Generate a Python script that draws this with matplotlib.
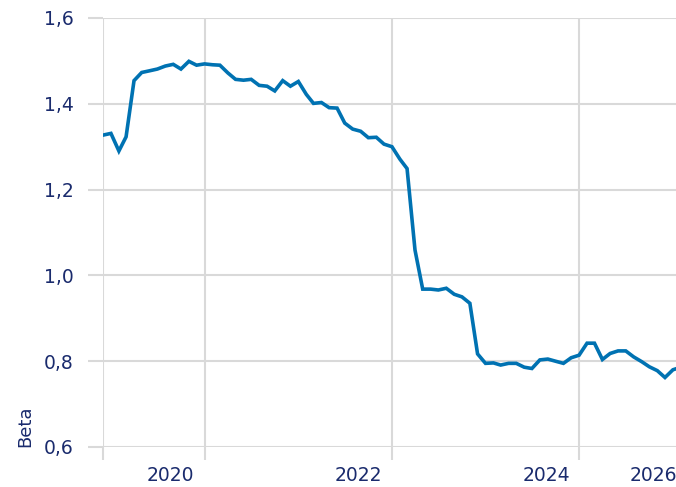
import matplotlib
matplotlib.use("Agg")
import matplotlib.pyplot as plt
import pandas as pd

# monthly beta estimates, starting Dec 2018
start = "2018-12-01"
beta = [1.327, 1.331, 1.290, 1.323, 1.454, 1.473, 1.477, 1.481, 1.488, 1.492,
        1.481, 1.499, 1.490, 1.493, 1.491, 1.490, 1.472, 1.457, 1.455, 1.457,
        1.443, 1.441, 1.430, 1.454, 1.441, 1.452, 1.422, 1.401, 1.403, 1.391,
        1.390, 1.355, 1.341, 1.336, 1.321, 1.322, 1.306, 1.300, 1.271, 1.249,
        1.059, 0.968, 0.968, 0.966, 0.970, 0.956, 0.950, 0.935, 0.817, 0.795,
        0.796, 0.791, 0.795, 0.795, 0.786, 0.783, 0.803, 0.805, 0.800, 0.795,
        0.808, 0.814, 0.842, 0.842, 0.804, 0.818, 0.824, 0.824, 0.810, 0.799,
        0.787, 0.778, 0.762, 0.780, 0.786]
dates = pd.date_range(start, periods=len(beta), freq="MS")

grid_dates = pd.to_datetime(["2018-12-01", "2020-01-01", "2022-01-01", "2024-01-01"])
label_dates = pd.to_datetime(["2019-08-22", "2021-08-25", "2023-08-25", "2024-10-18"])
year_labels = ["2020", "2022", "2024", "2026"]
y_ticks = [0.6, 0.8, 1.0, 1.2, 1.4, 1.6]

txt = "#1a2b6d"
gridc = "#d9d9d9"

fig = plt.figure(figsize=(6.76, 4.87), dpi=100)
ax = fig.add_axes([103 / 676, 40 / 487, 573 / 676, 429 / 487])

ax.plot(dates, beta, color="#0072b2", lw=2.6, zorder=3, solid_joinstyle="miter")

ax.set_xlim(pd.Timestamp("2018-12-01"), pd.Timestamp("2025-01-13"))
ax.set_ylim(0.6, 1.6)

ax.set_yticks(y_ticks)
ax.set_yticklabels([f"{v:.1f}".replace(".", ",") for v in y_ticks])
ax.set_xticks(grid_dates)
ax.set_xticklabels([""] * len(grid_dates))
ax.set_xticks(label_dates, minor=True)
ax.set_xticklabels(year_labels, minor=True)

ax.grid(True, which="major", color=gridc, lw=1.5, zorder=0)
ax.tick_params(axis="y", length=10.8, width=1.5, color=gridc, pad=10.5,
               labelsize=13.5, labelcolor=txt)
ax.tick_params(axis="x", which="major", length=9.4, width=1.5, color=gridc)
ax.tick_params(axis="x", which="minor", length=0, pad=14, labelsize=13.5,
               labelcolor=txt)
for s in ax.spines.values():
    s.set_visible(False)

ax.set_ylabel("Beta", loc="bottom", fontsize=13, color=txt, labelpad=7)

fig.savefig("out.png", dpi=100)
